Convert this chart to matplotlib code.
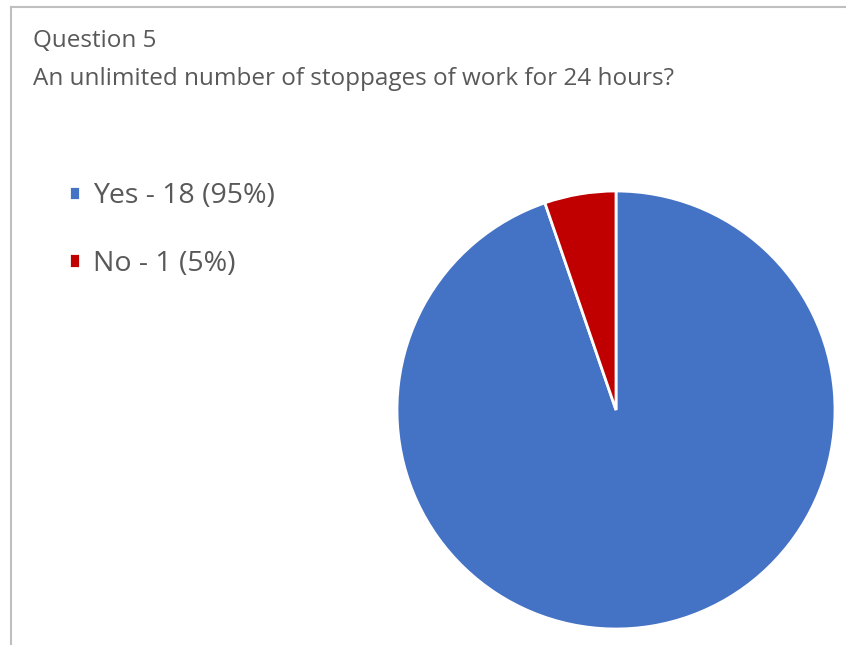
import matplotlib
matplotlib.use("Agg")
import matplotlib.pyplot as plt
from matplotlib.lines import Line2D

plt.rcParams['font.family'] = ['Open Sans', 'DejaVu Sans']

# data
labels = ["Yes", "No"]
counts = [18, 1]
percents = [95, 5]
colors = ["#4472C4", "#C00000"]
title_lines = ["Question 5", "An unlimited number of stoppages of work for 24 hours?"]

W, H = 846, 645
fig = plt.figure(figsize=(W / 100, H / 100), dpi=100)

# chart frame (left and top edges only visible)
fig.add_artist(Line2D([11 / W, 11 / W], [0, 1 - 7 / H], color="#BFBFBF", lw=1.5))
fig.add_artist(Line2D([11 / W, 845 / W], [1 - 7 / H, 1 - 7 / H], color="#BFBFBF", lw=1.5))

# title
fig.text(33 / W, 1 - 47 / H, title_lines[0], fontsize=17.5, color="#595959")
fig.text(33 / W, 1 - 85 / H, title_lines[1], fontsize=17.5, color="#595959")

# pie
cx, cy, r = 616, 410, 219
ax = fig.add_axes([(cx - r) / W, (H - cy - r) / H, 2 * r / W, 2 * r / H])
wedges, _ = ax.pie(counts, colors=colors, startangle=90, counterclock=False,
                   wedgeprops=dict(edgecolor="white", linewidth=2))
ax.set_xlim(-1, 1)
ax.set_ylim(-1, 1)
ax.set_aspect("equal")

leg_labels = ["%s - %d (%d%%)" % (l, c, p) for l, c, p in zip(labels, counts, percents)]
fig.legend(wedges, leg_labels, loc="upper left", bbox_to_anchor=(69 / W, 1 - 182 / H),
           frameon=False, fontsize=20.5, labelcolor="#595959", borderpad=0, borderaxespad=0,
           handlelength=0.4, handleheight=0.4, handletextpad=0.45, labelspacing=1.4)

fig.savefig("out.png", dpi=100)
